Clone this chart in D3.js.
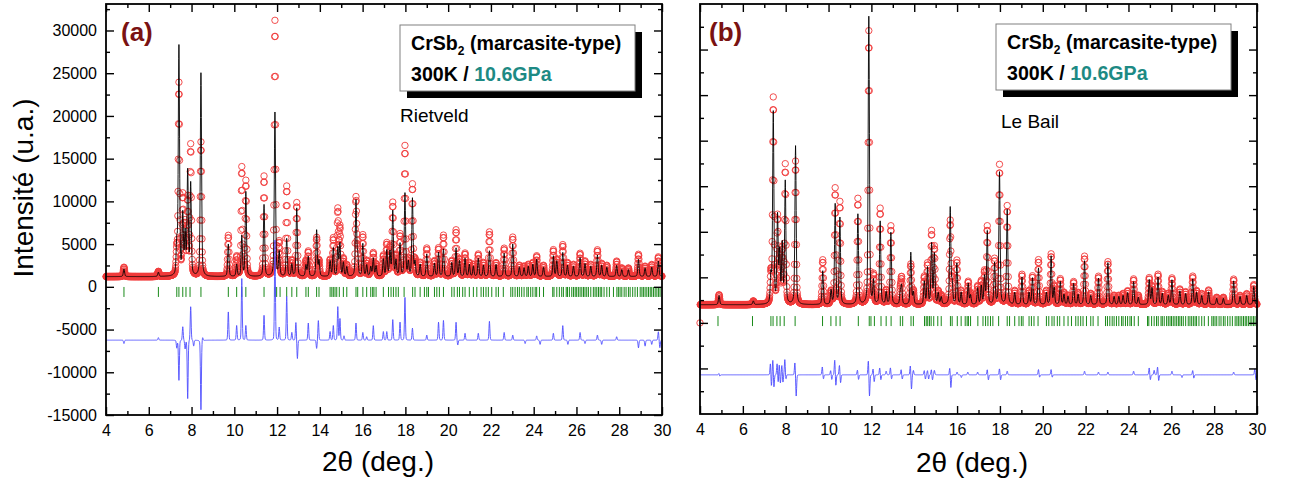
<!DOCTYPE html>
<html><head><meta charset="utf-8">
<script src="https://cdn.jsdelivr.net/npm/d3@7"></script>
<style>
body{margin:0;background:#fff}
svg text{font-family:"Liberation Sans",Arial,sans-serif}
</style>
</head><body>
<svg id="c" width="1290" height="487"></svg>
<script>
// ---------------- DATA ----------------
const xMajorTicks = [4,6,8,10,12,14,16,18,20,22,24,26,28,30];
const xMinorTicks = [5,7,9,11,13,15,17,19,21,23,25,27,29];
const yMajorTicksA = [-15000,-10000,-5000,0,5000,10000,15000,20000,25000,30000];
const yMinorTicksA = [-12500,-7500,-2500,2500,7500,12500,17500,22500,27500,32500];
const yMajorTicksB = [-5000,0,5000,10000,15000,20000,25000,30000];
const yMinorTicksB = [-7500,-2500,2500,7500,12500,17500,22500,27500,32500];

// Bragg reflection positions (2θ, deg.)
const reflections = [4.84,6.45,7.31,7.41,7.59,7.74,7.93,8.44,9.72,10.11,10.35,10.54,11.39,11.90,11.98,12.14,
 12.45,12.69,12.92,13.35,13.46,13.85,13.96,14.48,14.56,14.63,14.71,14.79,14.91,15.10,15.26,15.69,15.77,16.01,
 16.19,16.38,16.47,16.53,16.63,16.97,17.21,17.33,17.44,17.56,17.67,17.94,18.34,18.45,18.69,18.89,19.00,19.08,
 19.36,19.47,19.59,19.78,20.17,20.28,20.43,20.53,20.68,20.79,20.99,21.18,21.34,21.54,21.65,21.77,21.88,22.04,
 22.24,22.35,22.58,22.93,23.02,23.13,23.24,23.33,23.44,23.55,23.68,23.75,23.86,23.96,24.07,24.14,24.27,24.46,
 24.89,24.95,25.08,25.20,25.31,25.39,25.52,25.58,25.67,25.78,25.86,25.94,26.01,26.09,26.17,26.25,26.33,26.40,
 26.48,26.56,26.67,26.79,26.87,26.95,27.03,27.11,27.18,27.29,27.42,27.54,27.73,27.89,27.96,28.04,28.12,28.23,
 28.32,28.43,28.51,28.63,28.74,28.85,28.98,29.06,29.13,29.21,29.29,29.37,29.45,29.52,29.60,29.68,29.76,29.84,29.91];

// Panel (a) Rietveld: [2θ, observed peak top, calculated peak top]
const peaksA = [[4.84,2300,2100],[6.45,1800,1700],[7.31,3900,4800],[7.41,23600,28000],[7.59,10300,8200],
 [7.70,7000,6000],[7.82,10000,13300],[7.96,16400,11900],[8.44,16900,25000],[9.72,6000,5000],[10.11,3500,2600],
 [10.35,13900,5900],[10.54,12300,11100],[11.39,12900,9600],[11.90,31100,20400],[12.10,5000,4000],[12.45,11700,5600],
 [12.69,3000,2600],[12.92,9800,9200],[13.35,3000,2500],[13.46,4100,3500],[13.85,5700,6600],[13.96,3000,3000],
 [14.48,3100,3000],[14.63,5600,4500],[14.84,8900,4500],[14.94,6800,5000],[15.10,3200,2800],[15.26,2500,2300],
 [15.69,10300,10000],[15.77,4000,3500],[16.01,6000,5000],[16.19,3000,2500],[16.38,2500,2300],[16.50,3900,3300],
 [16.63,2600,2400],[16.97,3600,3200],[17.13,5000,4200],[17.28,4500,4000],[17.41,9700,8800],[17.56,3500,3000],
 [17.75,6000,5000],[17.98,16400,10900],[18.14,3000,2800],[18.33,11900,10300],[18.45,3000,2800],[18.69,2800,2600],
 [19.00,4500,3800],[19.36,3000,2700],[19.55,4500,4000],[19.78,6000,4400],[20.17,3000,2800],[20.37,6600,4500],
 [20.53,3200,3000],[20.79,3900,3300],[20.99,2800,2600],[21.18,2600,2400],[21.41,3800,3300],[21.65,2800,2500],
 [21.93,6400,4200],[22.24,2800,2600],[22.62,4500,3900],[23.02,5800,5000],[23.33,2500,2300],[23.55,2400,2200],
 [23.75,2600,2400],[23.96,2800,2600],[24.14,3600,3200],[24.46,2500,2300],[24.92,4300,3600],[25.08,3200,3000],
 [25.36,4900,4000],[25.58,2800,2500],[25.86,2600,2400],[26.17,3900,3400],[26.40,3000,2700],[26.67,2600,2400],
 [26.98,4300,3700],[27.18,2700,2500],[27.42,2500,2300],[27.88,3000,2500],[28.12,2200,2000],[28.43,2200,2000],
 [28.90,3800,3200],[29.21,2400,2200],[29.52,2600,2300],[29.83,3500,3000]];
// Panel (a) difference curve features: [2θ, signed amplitude]
const diffA = [[4.84,-400],[6.45,300],[7.31,-900],[7.41,-4700],[7.59,1600],[7.70,-1000],[7.82,-6850],[7.96,3950],
 [8.10,-700],[8.44,-8150],[8.52,400],[9.72,3300],[10.11,1700],[10.35,7200],[10.54,1700],[11.39,2900],[11.90,11700],
 [12.10,1500],[12.45,5100],[12.69,900],[12.88,2100],[12.95,-2200],[13.46,2000],[13.85,-1000],[13.93,2300],
 [14.48,1000],[14.63,1700],[14.84,3900],[14.94,2500],[15.13,500],[15.69,2000],[16.01,900],[16.19,400],[16.50,1700],
 [16.97,1000],[17.13,1000],[17.41,2400],[17.75,2100],[17.98,5000],[18.33,1400],[19.00,600],[19.55,2100],
 [19.78,2300],[20.37,2100],[20.45,-600],[20.79,800],[21.41,800],[21.93,2200],[22.62,900],[23.02,600],[23.60,-400],
 [24.14,500],[24.30,-500],[24.92,800],[25.36,1700],[25.60,-500],[26.17,900],[26.40,-400],[26.98,600],[27.18,-500],
 [27.88,400],[28.90,-900],[29.21,-700],[29.52,-500],[29.83,1000],[29.90,-900]];

// Panel (b) Le Bail: [2θ, observed peak top, calculated peak top]
const peaksB = [[4.89,3100,3000],[6.49,2400,2400],[7.31,5100,5000],[7.42,24500,23000],[7.62,11300,11500],
 [7.72,7000,7500],[7.84,7700,8400],[7.98,17200,15400],[8.46,17700,19400],[9.73,6900,5700],[10.12,3400,3500],
 [10.31,14700,13000],[10.53,13200,11500],[11.37,13600,11900],[11.88,32000,33600],[12.10,5100,4500],
 [12.41,12500,11100],[12.69,3500,3300],[12.91,10600,9900],[13.35,3500,3300],[13.41,4800,4000],[13.84,6400,7700],
 [13.96,3500,3300],[14.47,5000,4500],[14.62,6400,6000],[14.81,9900,8600],[14.94,8200,7500],[15.12,3400,3200],
 [15.26,3000,2800],[15.68,11100,12600],[15.77,4500,4200],[15.99,6800,6500],[16.19,3500,3300],[16.52,4500,4300],
 [16.63,3200,3000],[16.96,4000,3800],[17.13,4500,4000],[17.28,5500,5000],[17.41,10500,10000],[17.75,6900,6500],
 [17.98,17300,16500],[18.34,12800,12400],[18.69,3500,3300],[19.03,5300,5000],[19.36,3500,3300],[19.52,5100,4900],
 [19.80,6900,6000],[20.17,3500,3300],[20.39,7500,7300],[20.53,4000,3800],[20.82,4800,4500],[20.99,3300,3100],
 [21.18,3000,2900],[21.44,4500,4300],[21.65,3300,3100],[21.95,7300,6800],[22.24,3200,3000],[22.60,5100,4900],
 [23.04,6700,6600],[23.33,3000,2900],[23.55,3000,2900],[23.75,3200,3000],[23.96,3500,3300],[24.24,4800,4500],
 [24.46,3000,2800],[24.97,4900,4700],[25.10,4000,3800],[25.38,5300,5000],[25.58,3400,3200],[25.86,3200,3000],
 [26.03,4900,4700],[26.40,3700,3500],[26.67,3400,3200],[27.00,5100,4800],[27.18,3500,3300],[27.42,3200,3000],
 [27.74,3600,3400],[28.12,2800,2700],[28.43,2800,2700],[28.91,4800,4600],[29.21,3000,2900],[29.52,3200,3000],
 [29.85,4200,4000]];
// Panel (b) difference curve features: [2θ, signed amplitude]
const diffB = [[4.89,200],[4.92,-200],[7.29,1460],[7.33,-1460],[7.40,1720],[7.45,-1460],[7.60,1280],[7.65,-950],
 [7.70,1200],[7.75,-1000],[7.82,1100],[7.87,-900],[7.96,1720],[8.01,-550],[8.43,1390],[8.49,-2380],[9.71,900],
 [9.76,-500],[10.10,500],[10.15,-550],[10.29,1700],[10.34,-1280],[10.51,1100],[10.56,-950],[11.35,550],[11.40,-550],
 [11.86,1700],[11.91,-2460],[12.08,700],[12.13,-800],[12.39,800],[12.44,-600],[12.69,400],[12.89,800],[12.94,-500],
 [13.39,600],[13.44,-500],[13.82,1100],[13.87,-1650],[13.96,500],[14.47,500],[14.52,-500],[14.62,500],[14.67,-500],
 [14.80,600],[14.85,-600],[14.94,500],[15.66,830],[15.71,-1460],[16.00,300],[16.20,-300],[16.50,300],[16.96,300],
 [17.41,600],[17.46,-600],[17.98,700],[18.03,-600],[18.34,400],[19.80,600],[19.85,-300],[20.39,600],[20.44,-300],
 [21.95,400],[22.60,300],[23.04,300],[24.24,400],[24.97,800],[25.02,-600],[25.20,500],[25.36,900],[25.41,-700],
 [26.03,400],[26.50,-300],[27.00,500],[27.05,-400],[28.91,300],[29.90,700],[29.95,-600]];
// first recorded point of panel (b): [2θ, observed, difference]
const firstPointB = [4.0, 0, -200];

const backgroundA = 1200, backgroundB = 2000;
const diffOffsetA = -6240, diffOffsetB = -5700;
const reflLevelA = -600, reflLevelB = 200;

// ---------------- DRAWING ----------------
const svg = d3.select('#c');
svg.append('rect').attr('width',1290).attr('height',487).attr('fill','#fff');

const step = 0.01;
const grid = d3.range(0, 2601).map(i => +(4 + i*step).toFixed(2));
const FWHM = 0.07, ETA = 0.4, DFWHM = 0.05;
function shape(d, f, eta){ const t = d/f; return eta/(1+4*t*t) + (1-eta)*Math.exp(-4*Math.LN2*t*t); }
function prof(x, list, idx, bg){ let s = bg; for (const p of list){ const d = x-p[0]; if (Math.abs(d) > 1.2) continue; s += (p[idx]-bg)*shape(d, FWHM, ETA);} return s; }
function dprof(x, list, off){ let s = off; for (const p of list){ const d = x-p[0]; if (Math.abs(d) > 0.6) continue; s += p[1]*shape(d, DFWHM, 0.15);} return s; }

const panels = [
 {left:106,right:662,top:4,bottom:415,yDom:[-15000,33100],yMaj:yMajorTicksA,yMin:yMinorTicksA,yLabels:true,
  peaks:peaksA,diff:diffA,bg:backgroundA,doff:diffOffsetA,refl:reflLevelA,first:null,
  tag:'(a)',tagX:121,tagY:41,boxX:400,boxY:25,method:'Rietveld',mX:400,mY:122,titleX:378,titleY:471},
 {left:700,right:1257,top:4,bottom:414,yDom:[-10000,35000],yMaj:yMajorTicksB,yMin:yMinorTicksB,yLabels:false,
  peaks:peaksB,diff:diffB,bg:backgroundB,doff:diffOffsetB,refl:reflLevelB,first:firstPointB,
  tag:'(b)',tagX:709,tagY:41,boxX:996,boxY:24,method:'Le Bail',mX:1001,mY:128,titleX:972,titleY:472}
];

panels.forEach(P => {
  const x = d3.scaleLinear().domain([4,30]).range([P.left,P.right]);
  const y = d3.scaleLinear().domain(P.yDom).range([P.bottom,P.top]);
  const g = svg.append('g');

  let rows = grid.map(t => ({t, obs:prof(t,P.peaks,1,P.bg), calc:prof(t,P.peaks,2,P.bg), diff:dprof(t,P.diff,P.doff)}));
  let diffRows = rows;
  if (P.first){
    rows = rows.slice(1);
    diffRows = [{t:P.first[0], diff:P.first[2]}].concat(rows);
  }
  // observed: circles
  const obsG = g.append('g').attr('fill','none').attr('stroke','#f03a3a').attr('stroke-width',0.9);
  obsG.selectAll('circle').data(rows).join('circle')
    .attr('cx',d=>x(d.t)).attr('cy',d=>y(d.obs)).attr('r',3.2);
  if (P.first){
    obsG.append('circle').attr('cx',x(P.first[0])).attr('cy',y(P.first[1])).attr('r',3.2);
  }
  // calculated: black line
  g.append('path').datum(rows).attr('fill','none').attr('stroke','#000').attr('stroke-width',0.9)
    .attr('d', d3.line().x(d=>x(d.t)).y(d=>y(d.calc)));
  // reflection ticks
  g.append('g').selectAll('line').data(reflections).join('line')
    .attr('x1',d=>x(d)).attr('x2',d=>x(d)).attr('y1',y(P.refl)-5).attr('y2',y(P.refl)+5)
    .attr('stroke','#1a8a1a').attr('stroke-width',1);
  // difference: blue line
  g.append('path').datum(diffRows).attr('fill','none').attr('stroke','#4d4dff').attr('stroke-width',0.9)
    .attr('d', d3.line().x(d=>x(d.t)).y(d=>y(d.diff)));

  // axes (ticks inward)
  const ax = svg.append('g').attr('class','axes');
  const tickStyle = sel => { sel.select('.domain').remove(); sel.selectAll('line').attr('stroke','#000').attr('stroke-width',1.4); sel.selectAll('text').attr('font-size',16).attr('fill','#000').attr('font-family','"Liberation Sans",Arial,sans-serif'); };
  ax.append('g').attr('transform',`translate(0,${P.bottom})`)
    .call(d3.axisBottom(x).tickValues(xMajorTicks).tickSize(-8).tickPadding(10).tickFormat(d3.format('d'))).call(tickStyle);
  ax.append('g').attr('transform',`translate(0,${P.bottom})`)
    .call(d3.axisBottom(x).tickValues(xMinorTicks).tickSize(-4).tickFormat('')).call(tickStyle);
  ax.append('g').attr('transform',`translate(0,${P.top})`)
    .call(d3.axisTop(x).tickValues(xMajorTicks).tickSize(-8).tickFormat('')).call(tickStyle);
  ax.append('g').attr('transform',`translate(0,${P.top})`)
    .call(d3.axisTop(x).tickValues(xMinorTicks).tickSize(-4).tickFormat('')).call(tickStyle);
  ax.append('g').attr('transform',`translate(${P.left},0)`)
    .call(d3.axisLeft(y).tickValues(P.yMaj).tickSize(-8).tickPadding(9).tickFormat(P.yLabels ? (d=>String(d)) : '')).call(tickStyle);
  ax.append('g').attr('transform',`translate(${P.left},0)`)
    .call(d3.axisLeft(y).tickValues(P.yMin).tickSize(-4).tickFormat('')).call(tickStyle);
  ax.append('g').attr('transform',`translate(${P.right},0)`)
    .call(d3.axisRight(y).tickValues(P.yMaj).tickSize(-8).tickFormat('')).call(tickStyle);
  ax.append('g').attr('transform',`translate(${P.right},0)`)
    .call(d3.axisRight(y).tickValues(P.yMin).tickSize(-4).tickFormat('')).call(tickStyle);
  svg.append('rect').attr('x',P.left).attr('y',P.top).attr('width',P.right-P.left).attr('height',P.bottom-P.top)
    .attr('fill','none').attr('stroke','#000').attr('stroke-width',1.8);

  // panel tag
  svg.append('text').attr('x',P.tagX).attr('y',P.tagY).attr('font-size',26).attr('font-weight',900)
    .attr('font-family','Lato,"Open Sans",sans-serif').attr('fill','#7a1212').text(P.tag);
  // legend box with shadow
  svg.append('rect').attr('x',P.boxX+7).attr('y',P.boxY+7).attr('width',235).attr('height',66).attr('fill','#000');
  svg.append('rect').attr('x',P.boxX).attr('y',P.boxY).attr('width',235).attr('height',66).attr('fill','#fff')
    .attr('stroke','#808080').attr('stroke-width',1);
  const t1 = svg.append('text').attr('x',P.boxX+11).attr('y',P.boxY+25).attr('font-size',19.6).attr('font-weight','bold').attr('fill','#000');
  t1.append('tspan').text('CrSb');
  t1.append('tspan').attr('font-size',12).attr('dy',5).text('2');
  t1.append('tspan').attr('dy',-5).text(' (marcasite-type)');
  const t2 = svg.append('text').attr('x',P.boxX+11).attr('y',P.boxY+56).attr('font-size',19.6).attr('font-weight','bold').attr('fill','#000');
  t2.append('tspan').text('300K / ');
  t2.append('tspan').attr('fill','#1d8a84').text('10.6GPa');
  svg.append('text').attr('x',P.mX).attr('y',P.mY).attr('font-size',19).attr('fill','#000').text(P.method);
  // x title
  svg.append('text').attr('x',P.titleX).attr('y',P.titleY).attr('text-anchor','middle').attr('font-size',28).attr('fill','#000').text('2θ (deg.)');
});

// y title
svg.append('text').attr('transform','translate(33,188) rotate(-90)').attr('text-anchor','middle')
  .attr('font-size',28).attr('fill','#000').text('Intensité (u.a.)');
</script>
</body></html>
